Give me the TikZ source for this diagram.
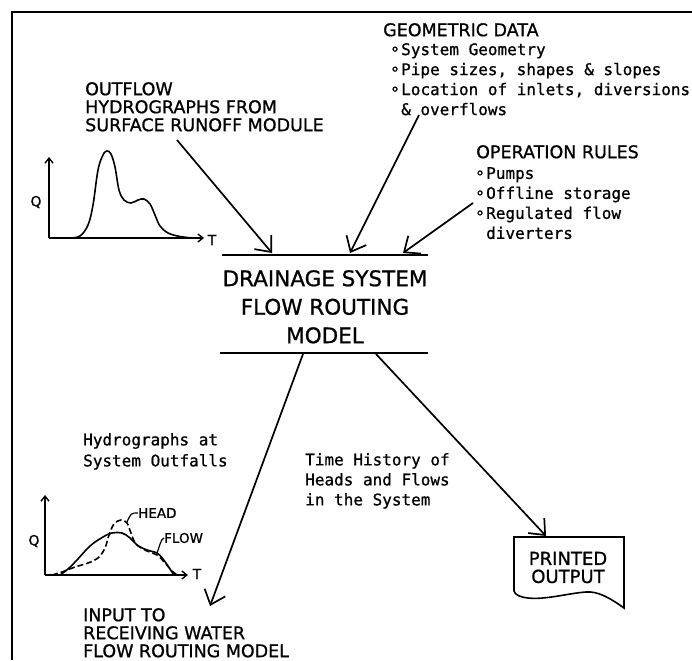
\documentclass[tikz,border=0pt]{standalone}
\usepackage{fontspec}
\setmainfont{DejaVu Sans}[UprightFeatures={FakeBold=0.9}]
\newfontfamily\plotmono{DejaVu Sans Mono}[UprightFeatures={FakeBold=0.9}]
\usetikzlibrary{arrows.meta,calc}
\newcommand{\itm}{\makebox[11pt][l]{\raisebox{-3.5pt}{°}}}
\tikzset{
  caps/.style={inner sep=0pt,anchor=north west,align=left,font=\fontsize{17.5}{18}\selectfont},
  note/.style={inner sep=0pt,anchor=north west,align=left,font=\plotmono\fontsize{16}{20}\selectfont},
  arr/.style={-{Straight Barb[length=13pt,width=22pt]},line width=1.7pt},
  ax/.style={-{Straight Barb[length=5pt,width=8pt]},line width=1.4pt},
  bar/.style={line width=1.9pt},
  crv/.style={line width=1.6pt},
  tiny/.style={inner sep=0pt,font=\fontsize{14}{14}\selectfont},
}

\begin{document}
\begin{tikzpicture}[x=1pt,y=-1pt]
 \useasboundingbox (0,0) rectangle (692,660);
 \draw[line width=2pt] (12,660) -- (12,12) -- (692,12);

 % model with its two bars
 \node[font=\fontsize{21.5}{28.5}\selectfont,align=center,inner sep=0pt,anchor=north] (model) at (325,270) {DRAINAGE SYSTEM\\FLOW ROUTING\\MODEL};
 \coordinate (tb1) at (222,255); \coordinate (tb2) at (428,255);
 \coordinate (bb1) at (220,353); \coordinate (bb2) at (428,353);
 \draw[bar] (tb1) -- (tb2);
 \draw[bar] (bb1) -- (bb2);

 % inputs
 \node[caps] (outflow) at (85,82) {OUTFLOW\\HYDROGRAPHS FROM\\SURFACE RUNOFF MODULE};
 \node[caps] (geo) at (383,23) {GEOMETRIC DATA};
 \node[note] (geoitems) at (390,43) {\itm System Geometry\\\itm Pipe sizes, shapes \& slopes\\\itm Location of inlets, diversions\\\hspace*{11pt}\& overflows};
 \node[caps] (oprules) at (476,145) {OPERATION RULES};
 \node[note] (opitems) at (475,167) {\itm Pumps\\\itm Offline storage\\\itm Regulated flow\\\hspace*{11pt}diverters};

 \coordinate (in1) at (177,140); \coordinate (in1t) at (272,253);
 \coordinate (in2) at (419,115); \coordinate (in2t) at (350,253);
 \coordinate (in3) at (473,203); \coordinate (in3t) at (403,253);
 \draw[arr] (in1) -- (in1t);
 \draw[arr] (in2) -- (in2t);
 \draw[arr] (in3) -- (in3t);

 % runoff hydrograph
 \coordinate (g1o) at (49,238);
 \draw[ax] (g1o) -- ++(0,-81);
 \draw[ax] (g1o) -- ++(155,0);
 \node[tiny] (g1q) at (36,202) {Q};
 \node[tiny] (g1t) at (212,240) {T};
 \draw[crv] plot[smooth,tension=0.6] coordinates {(70,238) (80,236) (88,225) (93,205) (98,170) (103,155) (107,151) (111,154) (115,167) (119,190) (124,200) (131,203) (138,200) (144,199) (150,204) (155,215) (160,226) (168,233) (180,236.5) (193,238)};

 % outputs
 \node[note,font=\plotmono\fontsize{16}{21}\selectfont] (outfalls) at (83,433) {Hydrographs at\\System Outfalls};
 \node[note] (history) at (305,453) {Time History of\\Heads and Flows\\in the System};
 \node[caps] (input) at (83,608) {INPUT TO\\RECEIVING WATER\\FLOW ROUTING MODEL};
 \node[font=\fontsize{18}{18}\selectfont,align=center,inner sep=0pt] (prt) at (568,567.5) {PRINTED\\OUTPUT};
 \draw[crv] (514,537) -- (624,537) -- (624,608) .. controls (610,598) and (598,591) .. (586,592) .. controls (570,593) and (545,600) .. (528,598) .. controls (520,597) and (515,595) .. (514,591) -- cycle;

 \coordinate (o1) at (303,354); \coordinate (o1t) at (210,606);
 \coordinate (o2) at (376,354); \coordinate (prttop) at (546,536);
 \draw[arr] (o1) -- (o1t);
 \draw[arr] (o2) -- (prttop);

 % outfall hydrograph
 \coordinate (g2o) at (45,575);
 \draw[ax] (g2o) -- ++(0,-80);
 \draw[ax] (g2o) -- ++(143,0);
 \node[tiny] (g2q) at (34,541) {Q};
 \node[tiny] (g2t) at (197,574) {T};
 \draw[crv] plot[smooth,tension=0.6] coordinates {(60,575) (68,569) (77,560) (90,546) (103,537) (112,533) (122,533) (130,538) (137,545) (147,550) (157,553) (163,559) (170,569) (174,575)};
 \draw[crv,dash pattern=on 6pt off 3pt] plot[smooth,tension=0.6] coordinates {(52,575) (62,572) (75,567) (88,563) (98,558) (105,548) (109,535) (114,524) (121,520) (127,523) (131,533) (136,544) (147,551) (157,555) (166,564) (172,571) (177,575)};
 \node[tiny,anchor=west,font=\fontsize{13.5}{14}\selectfont] (g2h) at (138,513) {HEAD};
 \node[tiny,anchor=west,font=\fontsize{13.5}{14}\selectfont] (g2f) at (164,538) {FLOW};
 \draw[line width=1.2pt] (127,522) .. controls (131,513) .. (g2h.west);
 \draw[line width=1.2pt] (157,553) .. controls (160,545) and (161,539) .. (g2f.west);
\end{tikzpicture}
\end{document}
